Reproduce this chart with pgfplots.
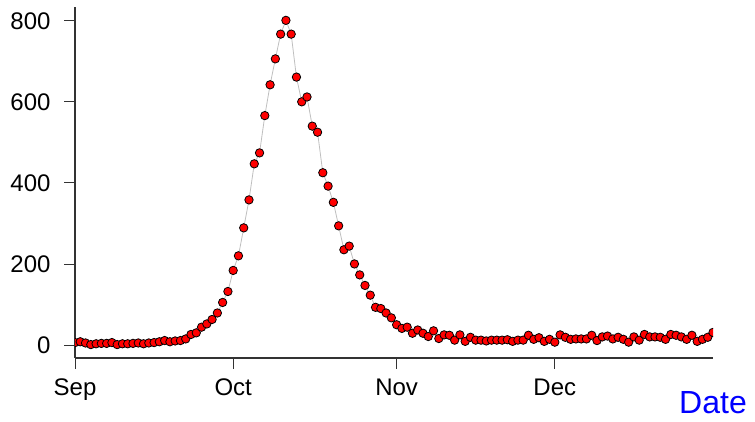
\documentclass[border=0pt]{standalone}
\usepackage{fontspec}
\setmainfont{Liberation Sans}
\usepackage{pgfplots}
\usepackage{pgfplotstable}
\pgfplotsset{compat=1.18}

% day index (0 = 1 Sep), daily count
\pgfplotstableread{
day val
0 6
1 8
2 5
3 1
4 3
5 4
6 4
7 6
8 1
9 3
10 3
11 4
12 5
13 3
14 5
15 6
16 8
17 11
18 8
19 10
20 11
21 15
22 26
23 30
24 44
25 52
26 63
27 79
28 105
29 132
30 184
31 220
32 289
33 358
34 447
35 474
36 566
37 642
38 706
39 767
40 801
41 767
42 661
43 600
44 612
45 540
46 525
47 425
48 392
49 352
50 294
51 235
52 244
53 200
54 173
55 147
56 123
57 93
58 90
59 79
60 67
61 50
62 41
63 44
64 29
65 37
66 29
67 21
68 35
69 16
70 25
71 24
72 12
73 25
74 9
75 19
76 12
77 12
78 10
79 12
80 12
81 12
82 13
83 9
84 12
85 12
86 24
87 14
88 18
89 9
90 14
91 7
92 25
93 19
94 14
95 15
96 15
97 15
98 24
99 11
100 20
101 22
102 15
103 19
104 14
105 7
106 20
107 12
108 26
109 20
110 20
111 19
112 14
113 26
114 24
115 20
116 14
117 24
118 9
119 14
120 19
121 31
}\cases

\begin{document}
\begin{tikzpicture}
\useasboundingbox (0,0) rectangle (755pt,-422pt);
\begin{axis}[
    at={(75pt,-345pt)}, anchor=origin,
    scale only axis,
    width=638pt, height=351pt,
    xmin=0, xmax=121,
    ymin=-32, ymax=834,
    axis x line=bottom, axis y line=left,
    axis line style={-, line width=1.3pt, black!80},
    tick align=outside,
    major tick length=11pt,
    tick style={line width=0.8pt, black!80},
    xtick={0,30,61,91},
    xticklabels={Sep,Oct,Nov,Dec},
    ytick={0,200,400,600,800},
    ticklabel style={font=\fontsize{24}{24}\selectfont},
    xticklabel style={yshift=-6pt},
    yticklabel style={xshift=-10pt},
    /pgf/number format/assume math mode=true,
    clip mode=individual,
    clip marker paths=true,
]
\addplot[color=black!25, line width=0.8pt, mark=*, mark size=4.2pt,
    mark options={fill=red, draw=black, line width=0.8pt}]
    table[x=day, y=val] {\cases};
\end{axis}
\node[text=blue, font=\fontsize{32}{32}\selectfont, inner sep=0pt, anchor=base] at (713pt,-413pt) {Date};
\end{tikzpicture}
\end{document}
